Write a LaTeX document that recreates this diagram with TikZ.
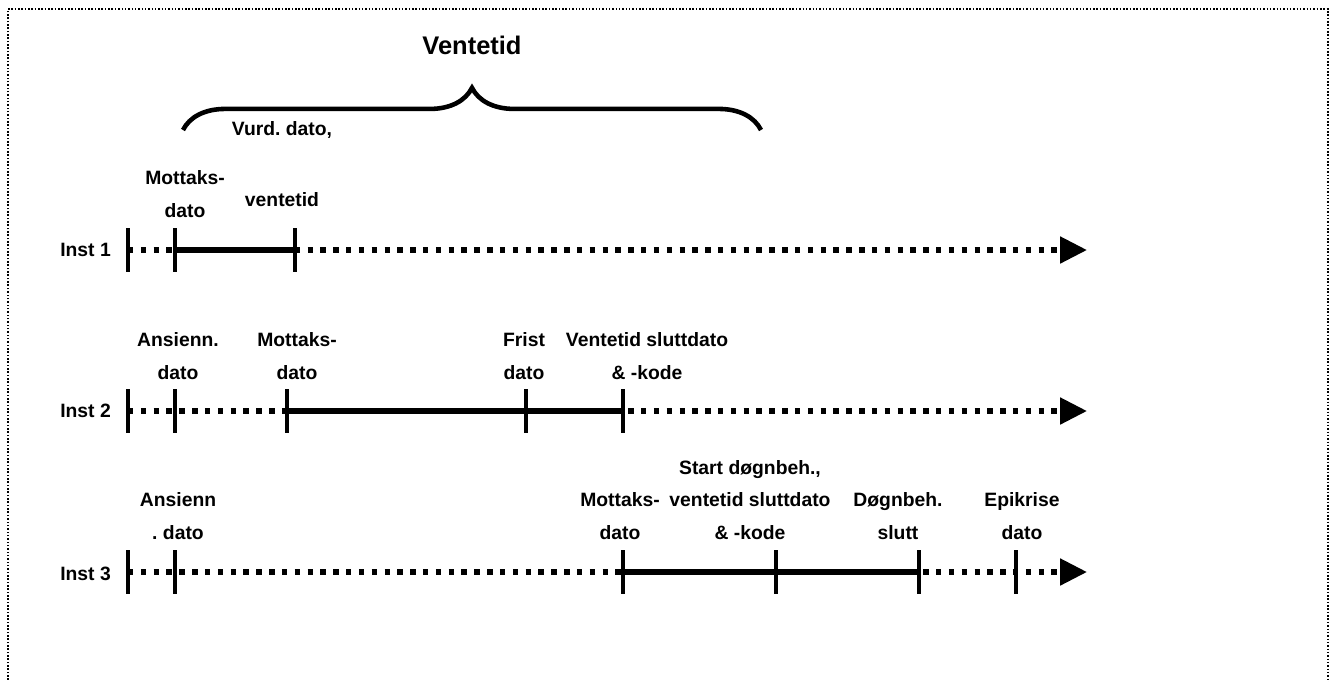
\documentclass[tikz,border=0pt]{standalone}
\usepackage{fontspec}
\setmainfont{Liberation Sans}
\usetikzlibrary{arrows.meta,decorations.pathreplacing}
\frenchspacing

\tikzset{
  lbl/.style={font=\bfseries\fontsize{11}{18.7}\selectfont, align=center},
  tickmark/.style={line width=2.8pt},
  solidline/.style={line width=3.1pt},
  dotline/.style={line width=3.1pt, dash pattern=on 3.1pt off 4.2pt,
    -{Triangle[length=15.3pt,width=14.7pt]}},
}

\begin{document}
\begin{tikzpicture}[x=0.02cm, y=-0.02cm]
\useasboundingbox (0, 0) rectangle (1336, 681);
\draw [densely dotted, line width=0.9pt]  (8, 700) --  (8, 9) --  (1328, 9) --  (1328, 700); % ramme

% Inst 1
\coordinate  (a0) at  (128, 250);
\coordinate  (a1) at  (175, 250);
\coordinate  (a2) at  (295, 250);
\coordinate  (aend) at  (1087, 250);
\node [lbl, anchor=east] (inst1) at  (117, 250) {Inst 1};
\draw [dotline]  (a0) --  (aend);
\draw [solidline]  (a1) --  (a2);
\draw [tickmark]  (a0) ++(0, -22) --  ++(0, 44);
\draw [tickmark]  (a1) ++(0, -22) --  ++(0, 44);
\draw [tickmark]  (a2) ++(0, -22) --  ++(0, 44);
\node [lbl] (mott1) at  (185, 194) {Mottaks-\\dato};
\node [lbl] (vent1) at  (282, 200) {ventetid};
\node [lbl] (vurd1) at  (282, 130) {Vurd. dato,};

% klamme
\coordinate  (b1) at  (183, 130);
\coordinate  (b2) at  (761, 130);
\draw [line width=2.6pt, decorate, decoration={brace, amplitude=24pt}]  (b1) --  (b2);
\node [font=\bfseries\fontsize{14.5}{17}\selectfont] (vtid) at  (472, 45) {Ventetid};

% Inst 2
\coordinate  (c0) at  (128, 411);
\coordinate  (c1) at  (175, 411);
\coordinate  (c2) at  (287, 411);
\coordinate  (c3) at  (526, 411);
\coordinate  (c4) at  (623, 411);
\coordinate  (cend) at  (1087, 411);
\node [lbl, anchor=east] (inst2) at  (117, 411) {Inst 2};
\draw [dotline]  (c0) --  (cend);
\draw [solidline]  (c2) --  (c4);
\draw [tickmark]  (c0) ++(0, -22) --  ++(0, 44);
\draw [tickmark]  (c1) ++(0, -22) --  ++(0, 44);
\draw [tickmark]  (c2) ++(0, -22) --  ++(0, 44);
\draw [tickmark]  (c3) ++(0, -22) --  ++(0, 44);
\draw [tickmark]  (c4) ++(0, -22) --  ++(0, 44);
\node [lbl] (ans2) at  (178, 356) {Ansienn.\\dato};
\node [lbl] (mott2) at  (297, 356) {Mottaks-\\dato};
\node [lbl] (frist2) at  (524, 356) {Frist\\dato};
\node [lbl] (slutt2) at  (647, 356) {Ventetid sluttdato\\\& -kode};

% Inst 3
\coordinate  (d0) at  (128, 572);
\coordinate  (d1) at  (175, 572);
\coordinate  (d2) at  (623, 572);
\coordinate  (d3) at  (776, 572);
\coordinate  (d4) at  (919, 572);
\coordinate  (d5) at  (1016, 572);
\coordinate  (dend) at  (1087, 572);
\node [lbl, anchor=east] (inst3) at  (117, 574) {Inst 3};
\draw [dotline]  (d0) --  (dend);
\draw [solidline]  (d2) --  (d4);
\draw [tickmark]  (d0) ++(0, -22) --  ++(0, 44);
\draw [tickmark]  (d1) ++(0, -22) --  ++(0, 44);
\draw [tickmark]  (d2) ++(0, -22) --  ++(0, 44);
\draw [tickmark]  (d3) ++(0, -22) --  ++(0, 44);
\draw [tickmark]  (d4) ++(0, -22) --  ++(0, 44);
\draw [tickmark]  (d5) ++(0, -22) --  ++(0, 44);
\node [lbl] (ans3) at  (178, 516) {Ansienn\\. dato};
\node [lbl] (mott3) at  (620, 516) {Mottaks-\\dato};
\node [lbl] (start3) at  (750, 500) {Start døgnbeh.,\\ventetid sluttdato\\\& -kode};
\node [lbl] (dogn3) at  (898, 516) {Døgnbeh.\\slutt};
\node [lbl] (epi3) at  (1022, 516) {Epikrise\\dato};

\end{tikzpicture}
\end{document}
